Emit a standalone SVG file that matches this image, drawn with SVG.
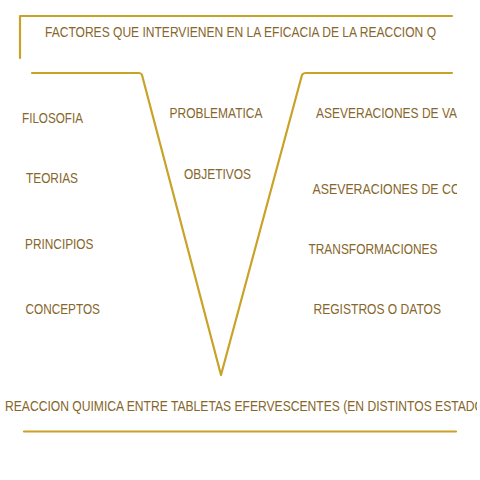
<svg xmlns="http://www.w3.org/2000/svg" width="480" height="480" viewBox="0 0 480 480">
<defs>
<style>
.t{font-family:"Liberation Sans",Arial,sans-serif;font-size:15px;fill:#86662A}
.b{font-size:15.5px}
.ln{fill:none;stroke:#C9A228;stroke-width:2.2;stroke-linejoin:round;stroke-linecap:round}
</style>
<clipPath id="c1"><rect x="0" y="0" width="457" height="480"/></clipPath>
<clipPath id="c2"><rect x="0" y="0" width="477" height="480"/></clipPath>
</defs>
<rect width="480" height="480" fill="#fff"/>
<g id="connectors">
<path class="ln" d="M20,58 V16 H452"/>
<path class="ln" d="M32,73 H139 Q141,73 142,75 L221,375 L302,75 Q303,73 306,73 H452"/>
<path class="ln" d="M24,431.5 H456"/>
</g>
<g id="title"><text class="t" x="45" y="37" textLength="391" lengthAdjust="spacingAndGlyphs">FACTORES QUE INTERVIENEN EN LA EFICACIA DE LA REACCION Q</text></g>
<g id="filosofia"><text class="t" x="22" y="123" textLength="61" lengthAdjust="spacingAndGlyphs">FILOSOFIA</text></g>
<g id="teorias"><text class="t" x="26" y="183" textLength="52" lengthAdjust="spacingAndGlyphs">TEORIAS</text></g>
<g id="principios"><text class="t" x="25" y="248.5" textLength="68.5" lengthAdjust="spacingAndGlyphs">PRINCIPIOS</text></g>
<g id="conceptos"><text class="t" x="25.5" y="314" textLength="74.5" lengthAdjust="spacingAndGlyphs">CONCEPTOS</text></g>
<g id="problematica"><text class="t" x="169.5" y="118" textLength="93" lengthAdjust="spacingAndGlyphs">PROBLEMATICA</text></g>
<g id="objetivos"><text class="t" x="184" y="178.5" textLength="67" lengthAdjust="spacingAndGlyphs">OBJETIVOS</text></g>
<g id="asev-va" clip-path="url(#c1)"><text class="t" x="316" y="118" textLength="141" lengthAdjust="spacingAndGlyphs">ASEVERACIONES DE VA</text></g>
<g id="asev-co" clip-path="url(#c1)"><text class="t" x="312.5" y="194" textLength="148" lengthAdjust="spacingAndGlyphs">ASEVERACIONES DE CO</text></g>
<g id="transformaciones"><text class="t" x="308.5" y="254" textLength="129" lengthAdjust="spacingAndGlyphs">TRANSFORMACIONES</text></g>
<g id="registros"><text class="t" x="313.5" y="314" textLength="127.5" lengthAdjust="spacingAndGlyphs">REGISTROS O DATOS</text></g>
<g id="reaccion" clip-path="url(#c2)"><text class="t b" x="5" y="411" textLength="479" lengthAdjust="spacingAndGlyphs">REACCION QUIMICA ENTRE TABLETAS EFERVESCENTES (EN DISTINTOS ESTADO</text></g>
</svg>
